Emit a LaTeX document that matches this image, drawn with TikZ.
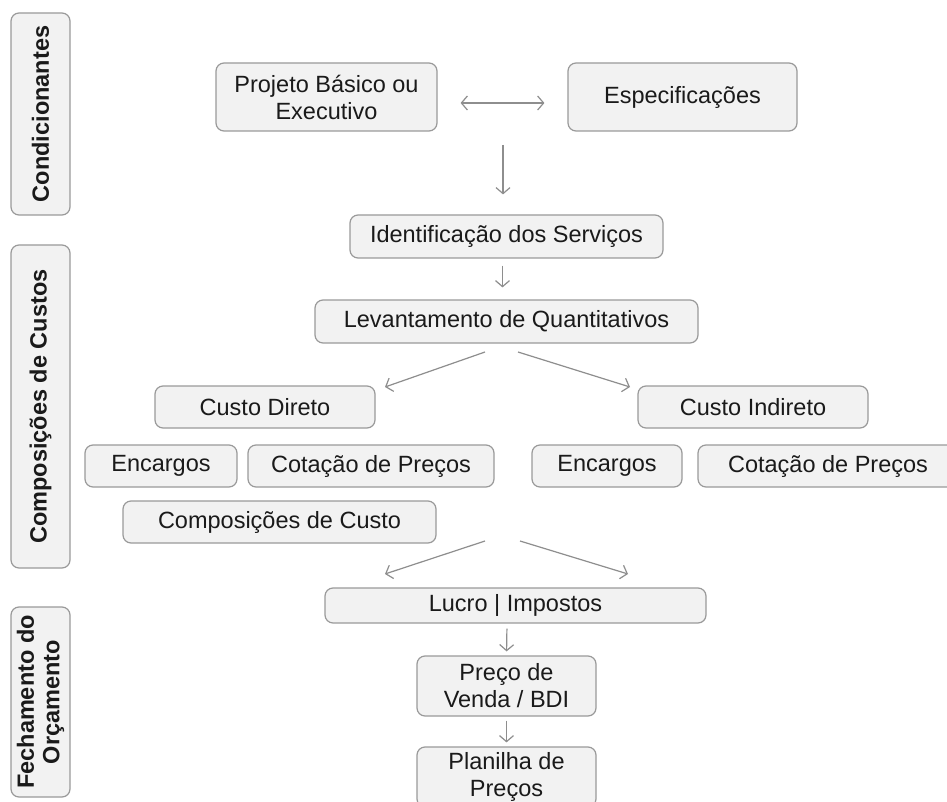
\documentclass[tikz,border=0pt]{standalone}
\usepackage{fontspec}
\setmainfont{Liberation Sans}
\usetikzlibrary{arrows.meta,calc}
\definecolor{boxfill}{HTML}{F2F2F2}
\definecolor{boxline}{HTML}{9A9A9A}
\definecolor{arrcol}{HTML}{8E8E8E}
\definecolor{txt}{HTML}{1A1A1A}
\tikzset{
  bx/.style={draw=boxline, fill=boxfill, line width=1.2pt, rounded corners=8pt,
    inner sep=0pt, align=center, text=txt,
    font=\fontsize{23.5}{27}\selectfont},
  side/.style={bx, font=\fontsize{23.5}{25.5}\selectfont\bfseries},
  arr/.style={draw=arrcol, line width=1.2pt, -{Straight Barb[length=6pt,width=14pt]}},
  darr/.style={draw=arrcol, line width=1.2pt, {Straight Barb[length=6pt,width=14pt]}-{Straight Barb[length=6pt,width=14pt]}}
}
\begin{document}
\begin{tikzpicture}[x=1pt,y=-1pt]
\useasboundingbox (0,0) rectangle (947,802);
\clip (0,0) rectangle (947,802);
\fill[white] (0,0) rectangle (947,802);
% side labels
\node[side, minimum width=59pt, minimum height=202pt] (cond) at (40.5,114) {};
\node[rotate=90, font=\fontsize{23.5}{25.5}\selectfont\bfseries, text=txt] (condt) at (cond.center) {Condicionantes};
\node[side, minimum width=59pt, minimum height=323pt] (compc) at (40.5,406.5) {};
\node[rotate=90, font=\fontsize{23.5}{25.5}\selectfont\bfseries, text=txt] (compct) at (compc.center) {Composições de Custos};
\node[side, minimum width=59pt, minimum height=190pt] (fech) at (40.5,702) {};
\node[rotate=90, align=center, font=\fontsize{23.5}{25.5}\selectfont\bfseries, text=txt] (fecht) at (fech.center) {Fechamento do\\Orçamento};
% main boxes
\node[bx, minimum width=221pt, minimum height=68pt] (proj) at (326.5,97) {Projeto Básico ou\\Executivo};
\node[bx, minimum width=229pt, minimum height=68pt] (espec) at (682.5,97) {Especificações};
\node[bx, minimum width=313pt, minimum height=43pt] (ident) at (506.5,236.5) {Identificação dos Serviços};
\node[bx, minimum width=383pt, minimum height=43pt] (lev) at (506.5,321.5) {Levantamento de Quantitativos};
\node[bx, minimum width=220pt, minimum height=42pt] (cd) at (265,407) {Custo Direto};
\node[bx, minimum width=230pt, minimum height=42pt] (ci) at (753,407) {Custo Indireto};
\node[bx, minimum width=152pt, minimum height=42pt] (enc1) at (161,466) {Encargos};
\node[bx, minimum width=246pt, minimum height=42pt] (cot1) at (371,466) {Cotação de Preços};
\node[bx, minimum width=313pt, minimum height=42pt] (comp) at (279.5,522) {Composições de Custo};
\node[bx, minimum width=150pt, minimum height=42pt] (enc2) at (607,466) {Encargos};
\node[bx, minimum width=260pt, minimum height=42pt] (cot2) at (828,466) {Cotação de Preços};
\node[bx, minimum width=381pt, minimum height=35pt] (lucro) at (515.5,605.5) {Lucro | Impostos};
\node[bx, minimum width=179pt, minimum height=60pt] (preco) at (506.5,686) {Preço de\\Venda / BDI};
\node[bx, minimum width=179pt, minimum height=60pt] (plan) at (506.5,777) {Planilha de\\Preços};
% connectors
\draw[darr, shorten <=23pt, shorten >=23pt] ([yshift=-6pt]proj.east) -- ([yshift=-6pt]espec.west);
\coordinate (ctop) at (503,145);
\draw[arr, shorten >=20pt] (ctop) -- (ctop |- ident.north);
\draw[arr, shorten <=7pt, shorten >=12pt] ([xshift=-4pt]ident.south) -- ([xshift=-4pt]lev.north);
\coordinate (l1s) at (485,352);
\coordinate (l1e) at (385,387);
\coordinate (r1s) at (518,352);
\coordinate (r1e) at (630,387);
\draw[arr] (l1s) -- (l1e);
\draw[arr] (r1s) -- (r1e);
\coordinate (l2s) at (485,541);
\coordinate (l2e) at (385,574);
\coordinate (r2s) at (520,541);
\coordinate (r2e) at (628,574);
\draw[arr] (l2s) -- (l2e);
\draw[arr] (r2s) -- (r2e);
\draw[arr, shorten <=5pt, shorten >=4pt] ([xshift=-8.5pt]lucro.south) -- (preco.north);
\draw[arr, shorten <=4pt, shorten >=4pt] (preco.south) -- (plan.north);
\end{tikzpicture}
\end{document}
